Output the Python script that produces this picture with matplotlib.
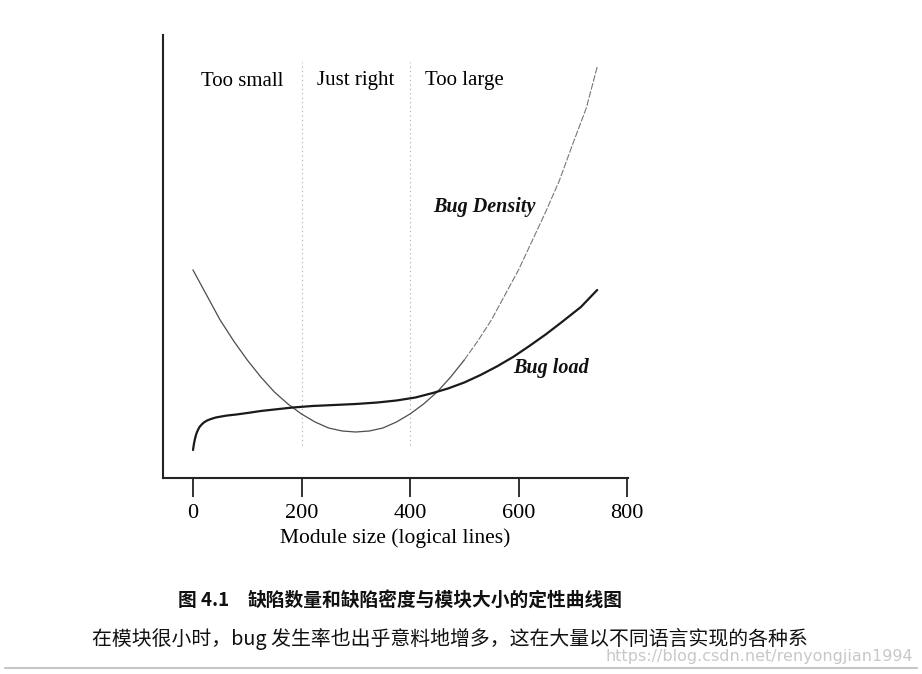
import matplotlib
matplotlib.use("Agg")
import matplotlib.pyplot as plt
from matplotlib.lines import Line2D

# ---- data (arbitrary defect units) ----
density_x = [0, 25, 50, 75, 100, 125, 150, 175, 200, 225, 250, 275, 300, 325, 350,
             375, 400, 425, 450, 475, 500, 525, 550, 575, 600, 625, 650, 675, 700, 725, 745]
density_y = [208, 183, 158, 137, 118, 101, 86, 74, 64, 56, 50, 47, 46, 47, 50,
             56, 64, 74, 86, 101, 118, 137, 158, 183, 208, 237, 266, 297, 334, 370, 411]

load_x = [0, 2, 4, 6, 9, 12, 16, 20, 26, 33, 42, 52, 63, 80, 100, 125, 150, 184,
          220, 260, 300, 340, 375, 410, 442, 470, 500, 530, 560, 590, 620, 650,
          680, 715, 745]
load_y = [28, 35, 40, 44, 48, 51, 53.5, 55.5, 57.5, 59, 60.5, 61.5, 62.5, 63.5,
          65, 67, 68.5, 70.5, 72, 73, 74, 75.5, 77.5, 80.5, 85, 89.5, 95.5, 103,
          111.5, 121, 132, 143.5, 156, 171, 188]

xticks = [0, 200, 400, 600, 800]
xtick_labels = ["0", "200", "400", "600", "800"]
region_x = [90, 299, 501]
region_labels = ["Too small", "Just right", "Too large"]
boundaries = [200, 400]

W, H = 922, 674
fig = plt.figure(figsize=(W / 100, H / 100), dpi=100)
fig.patch.set_facecolor("white")

left_px, right_px, top_px, bottom_px = 163, 628, 35, 478
ax = fig.add_axes([left_px / W, 1 - bottom_px / H,
                   (right_px - left_px) / W, (bottom_px - top_px) / H])
scale = (627 - 193) / 800.0
ax.set_xlim((left_px - 193) / scale, (right_px - 193) / scale)
ax.set_ylim(0, bottom_px - top_px)

serif = ["Liberation Serif", "DejaVu Serif"]

# boundaries
for b in boundaries:
    ax.plot([b, b], [33, 416], color="#aaaaaa", lw=0.8, ls=(0, (1, 3)))

# bug density (thin gray, fainter/dashed in its upper part)
n = 21
ax.plot(density_x[:n], density_y[:n], color="#4d4d4d", lw=0.9)
ax.plot(density_x[n - 1:], density_y[n - 1:], color="#777777", lw=0.8, ls=(0, (6, 1.5)))

# bug load (darker, thicker)
ax.plot(load_x, load_y, color="#1a1a1a", lw=1.6, solid_capstyle="round",
        solid_joinstyle="round")

# region labels
for xx, lab in zip(region_x, region_labels):
    ax.text(xx, 397, lab, ha="center", va="center", fontsize=15,
            family=serif, color="#000000")

ax.text(442, 271, "Bug Density", ha="left", va="center", fontsize=14.5,
        family=serif, style="italic", weight="bold", color="#111111")
ax.text(590, 110, "Bug load", ha="left", va="center", fontsize=14.5,
        family=serif, style="italic", weight="bold", color="#111111")

# axes styling
for s in ["top", "right"]:
    ax.spines[s].set_visible(False)
for s in ["left", "bottom"]:
    ax.spines[s].set_linewidth(1.5)
    ax.spines[s].set_color("#222222")
ax.set_yticks([])
ax.set_xticks(xticks)
ax.set_xticklabels(xtick_labels, family=serif, fontsize=16, color="#000000")
ax.tick_params(axis="x", direction="out", length=13.5, width=1.3, pad=5, color="#222222")
ax.set_xlabel("Module size (logical lines)", family=serif, fontsize=15.5,
              color="#000000", labelpad=4)

# caption and following text
cjk = ["Noto Sans CJK SC", "DejaVu Sans"]
fig.text(178 / W, 1 - 600 / H, "图 4.1", family=cjk, weight="bold", fontsize=13.5,
         va="center", ha="left", color="#111111")
fig.text(248 / W, 1 - 600 / H, "缺陷数量和缺陷密度与模块大小的定性曲线图", family=cjk,
         weight="bold", fontsize=13.5, va="center", ha="left", color="#111111")
fig.text(92 / W, 1 - 639 / H,
         "在模块很小时，bug 发生率也出乎意料地增多，这在大量以不同语言实现的各种系",
         family=cjk, fontsize=14.3, weight="medium", va="center", ha="left",
         color="#111111")
fig.text(913 / W, 1 - 657 / H, "https://blog.csdn.net/renyongjian1994",
         family=["Liberation Sans Narrow", "DejaVu Sans"], fontsize=11.5,
         va="center", ha="right", color="#c8c8c8")

fig.add_artist(Line2D([5 / W, 917 / W], [1 - 668 / H, 1 - 668 / H],
                      color="#bbbbbb", lw=1.2))

fig.savefig("out.png", dpi=100, facecolor="white")
